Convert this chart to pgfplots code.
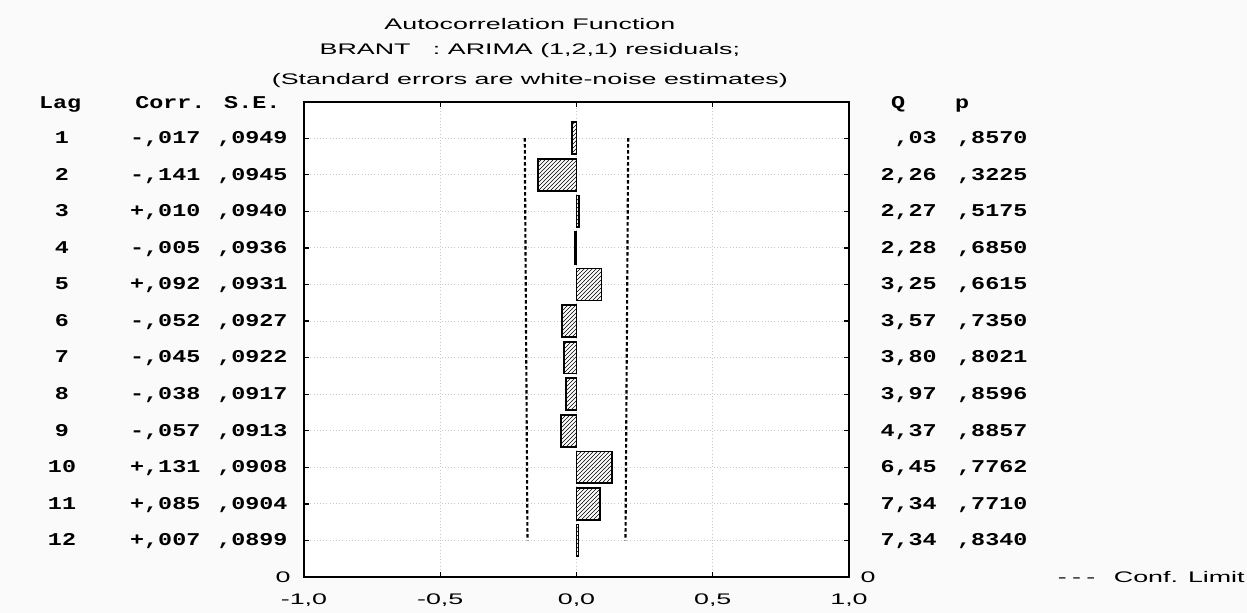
\documentclass[border=0pt]{standalone}
\usepackage{pgfplots}
\pgfplotsset{compat=1.18}
\usetikzlibrary{patterns}
\usepackage{fontspec}
\setmainfont{Liberation Sans}
\newfontfamily\sansw[FakeStretch=1.75]{Liberation Sans}
\newfontfamily\monow[FakeStretch=1.3,UprightFont={* Bold}]{Liberation Mono}
\newcommand\tf{\monow\fontsize{13.5}{14}\selectfont}
\newcommand\ttl{\sansw\fontsize{11.5}{13}\selectfont}
\tikzset{tb/.style={font=\tf,inner sep=0pt,text height=8pt,text depth=0pt}}
\newcommand\row[5]{%
 \node[tb] at (axis cs:-1.888,#1) {#1};
 \node[tb,anchor=west] at (axis cs:-1.639,#1) {#2};
 \node[tb,anchor=west] at (axis cs:-1.319,#1) {#3};
 \node[tb,anchor=east] at (axis cs:1.323,#1) {#4};
 \node[tb,anchor=west] at (axis cs:1.396,#1) {#5};
}
\begin{document}
\begin{tikzpicture}
\fill[gray!4] (-228pt,-27pt) rectangle (707.25pt,432.75pt);
\begin{axis}[
  at={(0,0)}, anchor=south west,
  scale only axis, width=408.75pt, height=356.5pt,
  xmin=-1, xmax=1, ymin=0, ymax=13, y dir=reverse,
  clip=false,
  axis background/.style={fill=white},
  axis line style={line width=1.3pt},
  xtick={-1,-0.5,0,0.5,1},
  xticklabels={{-1,0},{-0,5},{0,0},{0,5},{1,0}},
  xticklabel style={font=\ttl, yshift=-9pt},
  ytick={1,...,12}, yticklabels={},
  tick align=inside, major tick length=4pt,
  tick style={black, line width=1pt},
  xmajorgrids, ymajorgrids,
  grid style={gray!45, dotted, line width=0.8pt},
]
\addplot[xbar, bar width=0.87, draw=black, line width=1.3pt, pattern=north east lines]
 coordinates {(-0.017,1) (-0.141,2) (0.010,3) (-0.005,4) (0.092,5) (-0.052,6)
              (-0.045,7) (-0.038,8) (-0.057,9) (0.131,10) (0.085,11) (0.007,12)};
\addplot[black, line width=1.6pt, dash pattern=on 2.5pt off 2pt]
 coordinates {(-0.1898,1) (-0.1890,2) (-0.1880,3) (-0.1872,4) (-0.1862,5) (-0.1854,6)
              (-0.1844,7) (-0.1834,8) (-0.1826,9) (-0.1816,10) (-0.1808,11) (-0.1798,12)};
\addplot[black, line width=1.6pt, dash pattern=on 2.5pt off 2pt]
 coordinates {(0.1898,1) (0.1890,2) (0.1880,3) (0.1872,4) (0.1862,5) (0.1854,6)
              (0.1844,7) (0.1834,8) (0.1826,9) (0.1816,10) (0.1808,11) (0.1798,12)};
\node[font=\ttl] at (axis cs:-0.171,-2.12) {Autocorrelation Function};
\node[font=\ttl] at (axis cs:-0.171,-1.41) {BRANT \ \ : ARIMA (1,2,1) residuals;};
\node[font=\ttl] at (axis cs:-0.171,-0.59) {(Standard errors are white-noise estimates)};
\node[tb] at (axis cs:-1.895,0.05) {Lag};
\node[tb,anchor=west] at (axis cs:-1.620,0.05) {Corr. S.E.};
\node[tb] at (axis cs:1.180,0.05) {Q};
\node[tb] at (axis cs:1.415,0.05) {p};
\row{1}{-,017}{,0949}{,03}{,8570}
\row{2}{-,141}{,0945}{2,26}{,3225}
\row{3}{+,010}{,0940}{2,27}{,5175}
\row{4}{-,005}{,0936}{2,28}{,6850}
\row{5}{+,092}{,0931}{3,25}{,6615}
\row{6}{-,052}{,0927}{3,57}{,7350}
\row{7}{-,045}{,0922}{3,80}{,8021}
\row{8}{-,038}{,0917}{3,97}{,8596}
\row{9}{-,057}{,0913}{4,37}{,8857}
\row{10}{+,131}{,0908}{6,45}{,7762}
\row{11}{+,085}{,0904}{7,34}{,7710}
\row{12}{+,007}{,0899}{7,34}{,8340}
\node[font=\ttl,inner sep=0pt] at (axis cs:-1.077,13) {0};
\node[font=\ttl,inner sep=0pt] at (axis cs:1.07,13) {0};
\node[font=\ttl,anchor=east,inner sep=0pt] at (axis cs:2.453,13) {-\hspace{4pt}-\hspace{4pt}-\hspace{14pt}Conf. Limit};
\end{axis}
\pgfresetboundingbox
\path[use as bounding box] (-228pt,-27pt) rectangle (707.25pt,432.75pt);
\end{tikzpicture}
\end{document}
